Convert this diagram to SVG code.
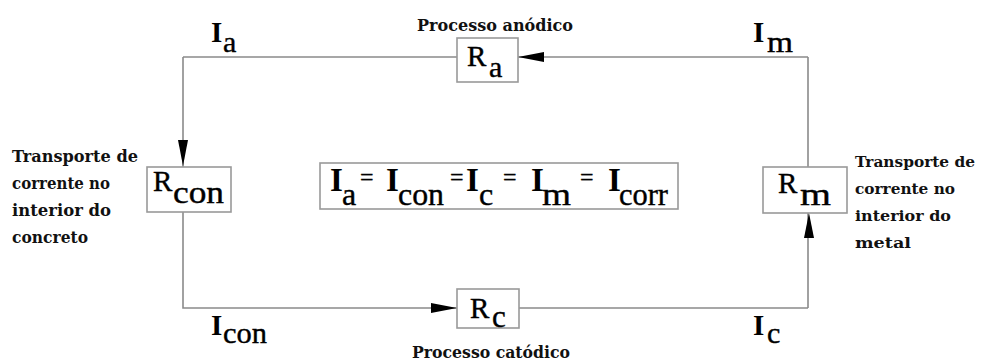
<svg xmlns="http://www.w3.org/2000/svg" width="985" height="363" viewBox="0 0 985 363">
<style>
.wire{fill:none;stroke:#8a8a8a;stroke-width:1.6}
.box{fill:#fff;stroke:#999;stroke-width:1.6}
.head{fill:#000}
.sym{font-family:"Liberation Serif","Times New Roman",serif;fill:#000;stroke:#000;stroke-width:0.4}
.big{font-family:"Liberation Serif","Times New Roman",serif;fill:#000;font-weight:bold}
.note{font-family:"DejaVu Serif","Liberation Serif",serif;font-weight:bold;fill:#111}
</style>
<rect width="985" height="363" fill="#fff"/>
<g id="connectors">
<path class="wire" d="M183,57 H808 M183,57 V167 M183,212 V308 H808 M808,308 V213 M808,167 V57"/>
<polygon class="head" points="518,57 544,52 544,62"/>
<polygon class="head" points="183,166 178,140 188,140"/>
<polygon class="head" points="809,213 804,238 814,238"/>
<polygon class="head" points="457,308 431,303 431,313"/>
</g>
<g id="Ra">
<rect class="box" x="457" y="38" width="61" height="44"/>
<text class="sym" x="467" y="66" font-size="29">R</text>
<text class="sym" x="489" y="77" font-size="30">a</text>
</g>
<g id="Rcon">
<rect class="box" x="147" y="167" width="84" height="45"/>
<text class="sym" x="153" y="191" font-size="29">R</text>
<text class="sym" x="173" y="203" font-size="31" textLength="51" lengthAdjust="spacingAndGlyphs">con</text>
</g>
<g id="Rm">
<rect class="box" x="763" y="167" width="84" height="46"/>
<text class="sym" x="778" y="193" font-size="29">R</text>
<text class="sym" x="800" y="205" font-size="31" textLength="31" lengthAdjust="spacingAndGlyphs">m</text>
</g>
<g id="Rc">
<rect class="box" x="457" y="289" width="62" height="39"/>
<text class="sym" x="470" y="318" font-size="29">R</text>
<text class="sym" x="492" y="327" font-size="31">c</text>
</g>
<g id="equation">
<rect class="box" x="320" y="163" width="358" height="46"/>
<text class="big" x="330" y="191" font-size="33">I</text>
<text class="sym" x="342" y="205" font-size="32">a</text>
<text class="sym" x="360" y="185" font-size="24">=</text>
<text class="big" x="386" y="191" font-size="33">I</text>
<text class="sym" x="398" y="205" font-size="32" textLength="46" lengthAdjust="spacingAndGlyphs">con</text>
<text class="sym" x="450" y="185" font-size="24">=</text>
<text class="big" x="466" y="191" font-size="33">I</text>
<text class="sym" x="479" y="205" font-size="32">c</text>
<text class="sym" x="503" y="185" font-size="24">=</text>
<text class="big" x="531" y="191" font-size="33">I</text>
<text class="sym" x="542" y="205" font-size="32" textLength="29" lengthAdjust="spacingAndGlyphs">m</text>
<text class="sym" x="580" y="185" font-size="24">=</text>
<text class="big" x="608" y="191" font-size="33">I</text>
<text class="sym" x="619" y="205" font-size="32" textLength="49" lengthAdjust="spacingAndGlyphs">corr</text>
</g>
<g id="labels">
<text class="big" x="211" y="42" font-size="29">I</text>
<text class="sym" x="223" y="52" font-size="30">a</text>
<text class="big" x="753" y="42" font-size="29">I</text>
<text class="sym" x="767" y="52" font-size="30" textLength="26" lengthAdjust="spacingAndGlyphs">m</text>
<text class="big" x="211" y="335" font-size="29">I</text>
<text class="sym" x="223" y="343" font-size="30" textLength="44" lengthAdjust="spacingAndGlyphs">con</text>
<text class="big" x="753" y="335" font-size="29">I</text>
<text class="sym" x="767" y="343" font-size="30">c</text>
</g>
<g id="notes">
<text class="note" x="417" y="31" font-size="16" textLength="156" lengthAdjust="spacingAndGlyphs">Processo anódico</text>
<text class="note" x="412" y="358" font-size="16" textLength="158" lengthAdjust="spacingAndGlyphs">Processo catódico</text>
<text class="note" x="12" y="162" font-size="17" textLength="126" lengthAdjust="spacingAndGlyphs">Transporte de</text>
<text class="note" x="12" y="189" font-size="17" textLength="98" lengthAdjust="spacingAndGlyphs">corrente no</text>
<text class="note" x="12" y="216" font-size="17" textLength="99" lengthAdjust="spacingAndGlyphs">interior do</text>
<text class="note" x="12" y="243" font-size="17" textLength="76" lengthAdjust="spacingAndGlyphs">concreto</text>
<text class="note" x="855" y="167" font-size="15" textLength="120" lengthAdjust="spacingAndGlyphs">Transporte de</text>
<text class="note" x="855" y="194" font-size="15" textLength="100" lengthAdjust="spacingAndGlyphs">corrente no</text>
<text class="note" x="855" y="221" font-size="15" textLength="96" lengthAdjust="spacingAndGlyphs">interior do</text>
<text class="note" x="855" y="248" font-size="15" textLength="56" lengthAdjust="spacingAndGlyphs">metal</text>
</g>
</svg>
